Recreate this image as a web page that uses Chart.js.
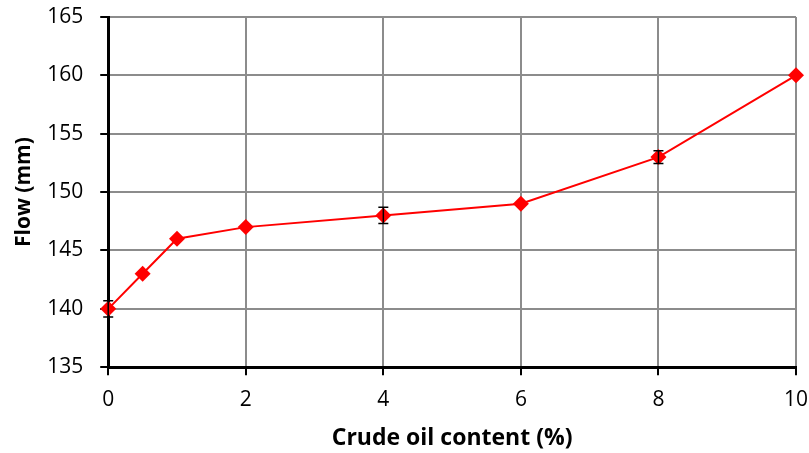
<!DOCTYPE html>
<html>
<head>
<meta charset="utf-8">
<script src="https://cdn.jsdelivr.net/npm/chart.js@4"></script>
<style>
  html, body { margin: 0; padding: 0; background: #fff; }
  #wrap { width: 809px; height: 453px; }
</style>
</head>
<body>
<div id="wrap"><canvas id="flowChart" width="809" height="453"></canvas></div>
<script>
// 원유 함량에 따른 흐름값
const oilContent = [0, 0.5, 1, 2, 4, 6, 8, 10];
const flowValues = [140, 143, 146, 147, 148, 149, 153, 160];
const flowErrors = [0.7, 0, 0, 0, 0.7, 0, 0.55, 0];
const xTicks = [0, 2, 4, 6, 8, 10];
const yTicks = [135, 140, 145, 150, 155, 160, 165];

const FONT = "'Open Sans', 'Liberation Sans', sans-serif";

// 오차 막대 그리기
const errorBars = {
  id: "errorBars",
  afterDatasetsDraw(chart) {
    const { ctx, scales } = chart;
    ctx.save();
    ctx.strokeStyle = "#000";
    ctx.lineWidth = 1.5;
    oilContent.forEach((x, i) => {
      const err = flowErrors[i];
      if (!err) return;
      const px = scales.x.getPixelForValue(x);
      const top = scales.y.getPixelForValue(flowValues[i] + err);
      const bot = scales.y.getPixelForValue(flowValues[i] - err);
      ctx.beginPath();
      ctx.moveTo(px, top);
      ctx.lineTo(px, bot);
      ctx.moveTo(px - 5, top);
      ctx.lineTo(px + 5, top);
      ctx.moveTo(px - 5, bot);
      ctx.lineTo(px + 5, bot);
      ctx.stroke();
    });
    ctx.restore();
  },
};

// 축 끝 라벨 여백은 layout padding 으로만 맞춘다
const clearEdgePadding = (scale) => {
  scale.paddingTop = 0;
  scale.paddingBottom = 0;
  scale.paddingLeft = 0;
  scale.paddingRight = 0;
};

new Chart(document.getElementById("flowChart"), {
  type: "line",
  data: {
    datasets: [
      {
        data: oilContent.map((x, i) => ({ x: x, y: flowValues[i] })),
        borderColor: "#ff0000",
        backgroundColor: "#ff0000",
        borderWidth: 2,
        pointStyle: "rectRot",
        pointRadius: 8,
        pointBorderWidth: 0,
        tension: 0,
        clip: false,
      },
    ],
  },
  options: {
    responsive: false,
    animation: false,
    layout: { padding: { top: 17, right: 13, left: 7, bottom: 1 } },
    plugins: {
      legend: { display: false },
      tooltip: { enabled: false },
    },
    scales: {
      x: {
        type: "linear",
        min: 0,
        max: 10,
        afterBuildTicks: (axis) => {
          axis.ticks = xTicks.map((v) => ({ value: v }));
        },
        afterFit: clearEdgePadding,
        grid: { color: "#8c8c8c", lineWidth: 2, tickColor: "#000", tickLength: 8 },
        border: { color: "#000", width: 3 },
        ticks: { color: "#000", font: { family: FONT, size: 21 }, padding: 12, maxRotation: 0 },
        title: {
          display: true,
          text: "Crude oil content (%)",
          color: "#000",
          font: { family: FONT, size: 23, weight: "bold" },
          padding: { top: 0, bottom: 0 },
        },
      },
      y: {
        min: 135,
        max: 165,
        afterBuildTicks: (axis) => {
          axis.ticks = yTicks.map((v) => ({ value: v }));
        },
        afterFit: clearEdgePadding,
        grid: { color: "#8c8c8c", lineWidth: 2, tickColor: "#000", tickLength: 8 },
        border: { color: "#000", width: 3 },
        ticks: { color: "#000", font: { family: FONT, size: 21 }, padding: 17 },
        title: {
          display: true,
          text: "Flow (mm)",
          color: "#000",
          font: { family: FONT, size: 21, weight: "bold" },
          padding: { top: 4, bottom: -6 },
        },
      },
    },
  },
  plugins: [errorBars],
});
</script>
</body>
</html>
